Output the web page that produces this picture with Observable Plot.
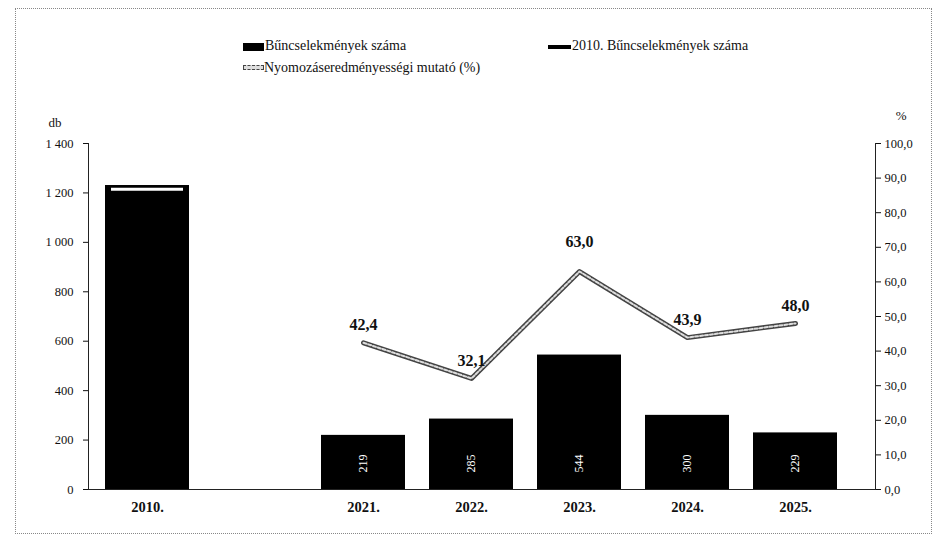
<!DOCTYPE html>
<html>
<head>
<meta charset="utf-8">
<script src="https://cdn.jsdelivr.net/npm/d3@7"></script>
<script src="https://cdn.jsdelivr.net/npm/@observablehq/plot@0.6"></script>
<style>
  html, body { margin: 0; padding: 0; background: #fff; }
  body { width: 941px; height: 544px; position: relative; overflow: hidden; font-family: "Liberation Serif", "Times New Roman", serif; color: #111; }
  #border { position: absolute; left: 15px; top: 8px; width: 917px; height: 526px; border: 1px dotted #888; box-sizing: border-box; }
  .lg { position: absolute; font-size: 14px; line-height: 16px; white-space: nowrap; }
  .sw { position: absolute; }
  #chart { position: absolute; left: 0; top: 100px; }
</style>
</head>
<body>
<div id="border"></div>
<div class="sw" style="left:243px;top:43px;width:21px;height:8px;background:#000;"></div>
<div class="lg" style="left:265px;top:38px;">Bűncselekmények száma</div>
<div class="sw" style="left:548px;top:45px;width:23px;height:4px;background:#000;"></div>
<div class="lg" style="left:572px;top:38px;">2010. Bűncselekmények száma</div>
<div class="sw" style="left:243px;top:65px;width:21px;height:5px;background:#ddd;border:1px dashed #444;box-sizing:border-box;"></div>
<div class="lg" style="left:264px;top:60px;">Nyomozáseredményességi mutató (%)</div>
<div id="chart"></div>
<script>
// ---- data ----
const categories = ["2010.", " ", "2021.", "2022.", "2023.", "2024.", "2025."];
const year2010 = ["2010."];
const value2010 = [1230];
const marker2010 = [1215];
const years = ["2021.", "2022.", "2023.", "2024.", "2025."];
const crimes = [219, 285, 544, 300, 229];
const rates = [42.4, 32.1, 63.0, 43.9, 48.0];
const leftTicks = [0, 200, 400, 600, 800, 1000, 1200, 1400];
const rightTicks = [0, 10, 20, 30, 40, 50, 60, 70, 80, 90, 100];

// ---- derived tables ----
const PCT = 14; // 100 % maps onto 1400 db on the shared scale
const bars2010 = year2010.map((x, i) => ({x, v: value2010[i], m: marker2010[i]}));
const bars = years.map((x, i) => ({x, v: crimes[i]}));
const line = years.map((x, i) => ({x, r: rates[i], y: rates[i] * PCT}));
const fmtRate = d => d.toFixed(1).replace(".", ",");
const fmtDb = d => d3.format(",")(d).replace(/,/g, " ");

const chart = Plot.plot({
  width: 941,
  height: 440,
  marginLeft: 88,
  marginRight: 66,
  marginTop: 43,
  marginBottom: 51,
  style: {fontFamily: "Liberation Serif, Times New Roman, serif", color: "#111", background: "transparent"},
  x: {type: "band", domain: categories, range: [92, 851], paddingInner: 0.22, paddingOuter: 0.11},
  y: {domain: [0, 1400]},
  marks: [
    Plot.barY(bars2010, {x: "x", y: "v", fill: "#000"}),
    Plot.tickY(bars2010, {x: "x", y: "m", stroke: "#fff", strokeWidth: 3, insetLeft: 6, insetRight: 6}),
    Plot.barY(bars, {x: "x", y: "v", fill: "#000"}),
    Plot.text(bars, {x: "x", y: () => 0, text: d => String(d.v), rotate: -90, fill: "#fff", dy: -26, fontSize: 12}),
    Plot.ruleY([0], {stroke: "#222"}),
    Plot.frame({anchor: "left", stroke: "#222"}),
    Plot.frame({anchor: "right", stroke: "#222"}),
    Plot.axisY(leftTicks, {anchor: "left", tickSize: 5, tickPadding: 10, tickFormat: fmtDb, fontSize: 12.5, label: null}),
    Plot.axisY(rightTicks.map(d => d * PCT), {anchor: "right", tickSize: 5, tickPadding: 4, tickFormat: d => fmtRate(d / PCT), fontSize: 12.5, label: null}),
    Plot.axisX({tickSize: 0, tickPadding: 12, fontSize: 14.5, fontWeight: "bold", label: null}),
    Plot.line(line, {x: "x", y: "y", stroke: "#444", strokeWidth: 5}),
    Plot.line(line, {x: "x", y: "y", stroke: "#ddd", strokeWidth: 2, strokeDasharray: "3,2"}),
    Plot.text(line, {filter: d => d.r !== 63.0, x: "x", y: "y", text: d => fmtRate(d.r), dy: -18, fontSize: 16, fontWeight: "bold"}),
    Plot.text(line, {filter: d => d.r === 63.0, x: "x", y: "y", text: d => fmtRate(d.r), dy: -30, fontSize: 16, fontWeight: "bold"}),
    Plot.text(["db"], {frameAnchor: "top-left", dx: -40, dy: -26, fontSize: 13}),
    Plot.text(["%"], {frameAnchor: "top-right", dx: 31, dy: -33, fontSize: 13})
  ]
});
document.getElementById("chart").appendChild(chart);
</script>
</body>
</html>
